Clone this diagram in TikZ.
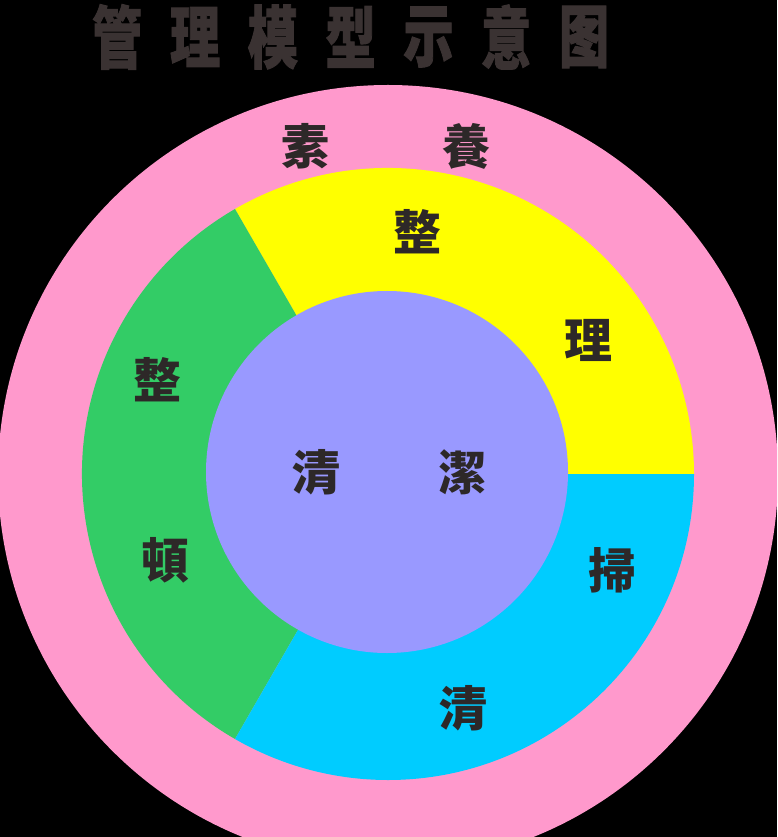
\documentclass[tikz,border=0pt]{standalone}
\usepackage{fontspec}
\newfontfamily\cjktc{Noto Sans CJK TC}
\newfontfamily\cjksc{Noto Sans CJK SC}[BoldFeatures={FakeBold=1.5}]
\tikzset{
  lbl/.style={inner sep=0.75pt, text={rgb,255:red,45;green,40;blue,40}, font=\cjktc\bfseries\fontsize{36}{36}\selectfont},
  ttl/.style={inner sep=0pt, xscale=0.74, text={rgb,255:red,58;green,50;blue,50}, font=\cjksc\bfseries\fontsize{51}{51}\selectfont}
}
\begin{document}
\begin{tikzpicture}[x=0.75pt,y=0.75pt,yscale=-1,xscale=1]
%Background
\fill [color={rgb, 255:red, 0; green, 0; blue, 0 }] (0,0) rectangle (777,837) ;
\useasboundingbox (0,0) rectangle (777,837) ;
\clip (0,0) rectangle (777,837) ;
\coordinate (c) at (388,475) ;

%Shape: Circle [outer ring]
\fill [color={rgb, 255:red, 255; green, 153; blue, 204 }] (c) circle [radius=390] ;
%Shape: Sector [yellow]
\fill [color={rgb, 255:red, 255; green, 255; blue, 0 }] (388,474) -- ++(-120:306) arc [start angle=-120, end angle=0, radius=306] -- cycle ;
%Shape: Sector [green]
\fill [color={rgb, 255:red, 51; green, 204; blue, 102 }] (388,474) -- ++(120:306) arc [start angle=120, end angle=240, radius=306] -- cycle ;
%Shape: Sector [cyan]
\fill [color={rgb, 255:red, 0; green, 204; blue, 255 }] (388,474) -- ++(0:306) arc [start angle=0, end angle=120, radius=306] -- cycle ;
%Shape: Circle [inner]
\fill [color={rgb, 255:red, 153; green, 153; blue, 255 }] (387,472) circle [radius=181] ;

% Title
\foreach \ch [count=\i] in {管,理,模,型,示,意,图}
  \node [ttl] (t\i) at (39.5+77.8*\i,37) {\ch} ;

% Text Node
\node [lbl] (su) at (305,146) {素} ;
% Text Node
\node [lbl] (yang) at (466,146) {養} ;
% Text Node
\node [lbl] (zheng1) at (417,232) {整} ;
% Text Node
\node [lbl] (li) at (588,340) {理} ;
% Text Node
\node [lbl] (zheng2) at (157,380) {整} ;
% Text Node
\node [lbl] (dun) at (165,560) {頓} ;
% Text Node
\node [lbl] (qing1) at (316,472) {清} ;
% Text Node
\node [lbl] (jie) at (462,472) {潔} ;
% Text Node
\node [lbl] (sao) at (612,570) {掃} ;
% Text Node
\node [lbl] (qing2) at (463,708) {清} ;
\end{tikzpicture}
\end{document}
